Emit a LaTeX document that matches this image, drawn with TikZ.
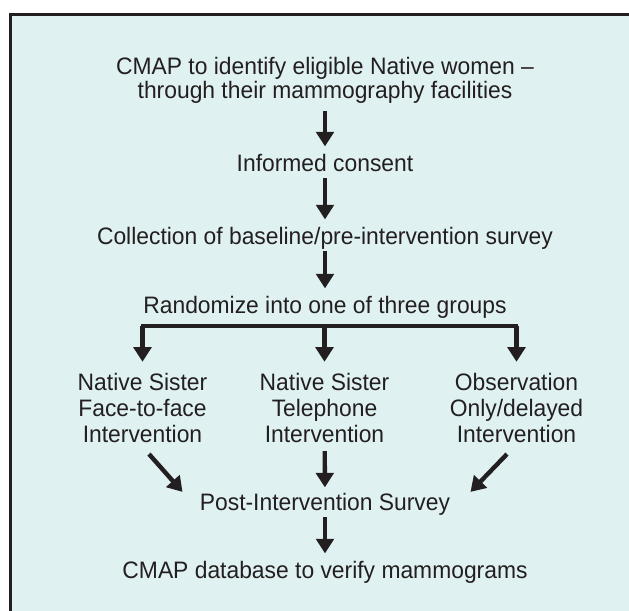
\documentclass[tikz,border=0pt]{standalone}
\usepackage{fontspec}
\setmainfont{Liberation Sans}[FakeStretch=0.96]
\usetikzlibrary{arrows.meta}
\definecolor{panel}{HTML}{E0F1F2}
\definecolor{ink}{HTML}{231F20}
\tikzset{stage/.style = {font=\fontsize{11.9}{13}\selectfont, text=ink, inner sep=0, text height=8.6pt, text depth=2.5pt, anchor=base}}
\tikzset{group/.style = {font=\fontsize{11.9}{13}\selectfont, text=ink, inner sep=0, align=center, anchor=north}}
\tikzset{flow/.style = {draw=ink, line width=2.2pt, -{Triangle[length=7.3pt,width=8.8pt]}, shorten <=1pt, shorten >=3.5pt}}

\begin{document}
\begin{tikzpicture}[x=0.5pt,y=-0.5pt]
        \useasboundingbox (0,0) rectangle (629,611);
        \clip (0,0) rectangle (629,611);
        \filldraw [fill=panel, draw=ink, line width=1.5pt] (11,14.5) rectangle (660,640);
        \node [group, font=\fontsize{11.9}{12}\selectfont] (cmap) at (325,57) {CMAP to identify eligible Native women --\\through their mammography facilities};
        \node [stage] (consent) at (325,171) {Informed consent};
        \node [stage] (survey) at (325,244) {Collection of baseline/pre-intervention survey};
        \node [stage] (random) at (325,313) {Randomize into one of three groups};
        \node [group] (face) at (142.5,372.8) {Native Sister\\Face-to-face\\Intervention};
        \node [group] (phone) at (324.5,372.8) {Native Sister\\Telephone\\Intervention};
        \node [group] (obs) at (516.5,372.8) {Observation\\Only/delayed\\Intervention};
        \node [stage] (post) at (325,510) {Post-Intervention Survey};
        \node [stage] (verify) at (325,578) {CMAP database to verify mammograms};
        \coordinate (bar) at (325,326);
        \draw [flow, shorten <=3.5pt] (cmap) -- (consent);
        \draw [flow] (consent) -- (survey);
        \draw [flow] (survey) -- (random);
        \draw [ink, line width=1.8pt, line cap=rect] (bar -| face) -- (bar -| obs);
        \foreach \g in {face,phone,obs}
            \draw [flow, shorten <=0pt, shorten >=5.5pt] (bar -| \g) -- (\g);
        \draw [flow, shorten <=0pt, shorten >=0pt] ([shift={(6.5,11)}]face.south) -- ([shift={(-17,-12)}]post.west);
        \draw [flow, shorten <=4pt, shorten >=2.5pt] (phone) -- (post);
        \draw [flow, shorten <=0pt, shorten >=0pt] ([shift={(-9.5,11)}]obs.south) -- ([shift={(20,-12)}]post.east);
        \draw [flow] (post) -- (verify);
    \end{tikzpicture}
\end{document}
